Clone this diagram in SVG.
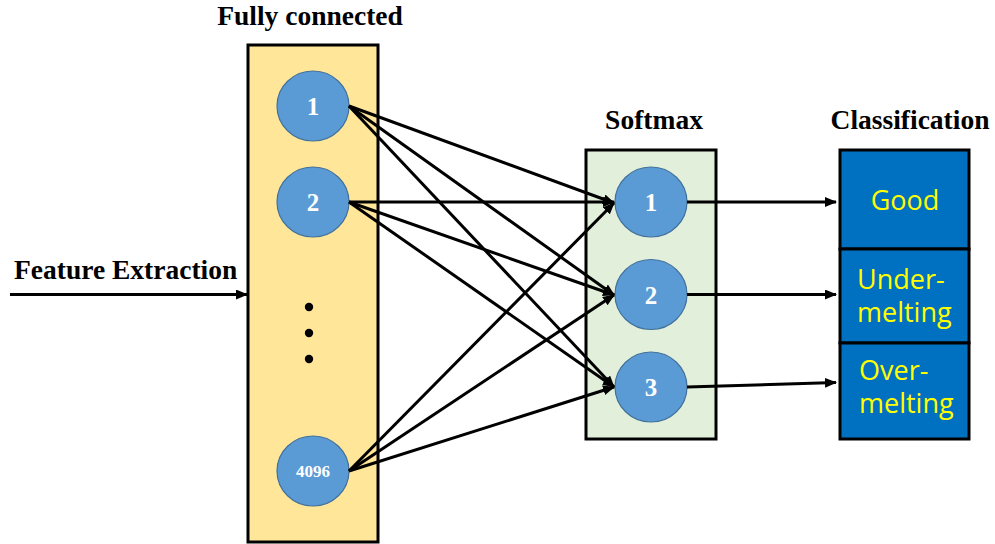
<svg xmlns="http://www.w3.org/2000/svg" width="995" height="544" viewBox="0 0 995 544">
  <defs>
    <marker id="arrow" markerUnits="userSpaceOnUse" markerWidth="12" markerHeight="10" refX="11" refY="5" orient="auto">
      <path d="M0,0 L12,5 L0,10 Z" fill="#000"/>
    </marker>
    <style>
      .title { font-family: "Liberation Serif", "Times New Roman", serif; font-weight: bold; font-size: 27.5px; fill: #000; }
      .layer { stroke: #000; stroke-width: 3; }
      .neuron { fill: #5B9BD5; stroke: #41719C; stroke-width: 1.2; }
      .num { font-family: "Liberation Serif", "Times New Roman", serif; font-weight: bold; font-size: 25px; fill: #fff; text-anchor: middle; }
      .cls { fill: #0070C0; stroke: #000; stroke-width: 3; }
      .clsText { font-family: "Open Sans", "Noto Sans", sans-serif; font-size: 27px; fill: #FFFF00; }
      .link { stroke: #000; stroke-width: 3; fill: none; marker-end: url(#arrow); }
    </style>
  </defs>
  <rect width="995" height="544" fill="#fff"/>

  <!-- headings -->
  <text class="title" x="310" y="25" text-anchor="middle">Fully connected</text>
  <text class="title" x="654" y="129" text-anchor="middle">Softmax</text>
  <text class="title" x="910" y="129" text-anchor="middle">Classification</text>
  <text class="title" x="14" y="279">Feature Extraction</text>

  <!-- fully connected layer -->
  <g id="fc-layer">
    <rect class="layer" x="248" y="45" width="130" height="497" fill="#FFE699"/>
    <circle cx="309" cy="307" r="4.2" fill="#000"/>
    <circle cx="309" cy="333" r="4.2" fill="#000"/>
    <circle cx="309" cy="359" r="4.2" fill="#000"/>
  </g>
  <g id="fc1">
    <ellipse class="neuron" cx="313" cy="106" rx="36" ry="35"/>
    <text class="num" x="313" y="115">1</text>
  </g>
  <g id="fc2">
    <ellipse class="neuron" cx="313" cy="202" rx="36" ry="35"/>
    <text class="num" x="313" y="211">2</text>
  </g>
  <g id="fc4096">
    <ellipse class="neuron" cx="313" cy="471" rx="36" ry="35"/>
    <text class="num" x="313" y="477" style="font-size:17px">4096</text>
  </g>

  <!-- softmax layer -->
  <g id="softmax-layer">
    <rect class="layer" x="586" y="150" width="130" height="289" fill="#E2EFDA"/>
  </g>
  <g id="sm1">
    <ellipse class="neuron" cx="651" cy="202" rx="36" ry="35"/>
    <text class="num" x="651" y="211">1</text>
  </g>
  <g id="sm2">
    <ellipse class="neuron" cx="651" cy="294.5" rx="36" ry="35"/>
    <text class="num" x="651" y="303.5">2</text>
  </g>
  <g id="sm3">
    <ellipse class="neuron" cx="651" cy="387" rx="36" ry="35"/>
    <text class="num" x="651" y="396">3</text>
  </g>

  <!-- classification outputs -->
  <g id="cls-good">
    <rect class="cls" x="840" y="150" width="129" height="99"/>
    <text class="clsText" x="905" y="210" text-anchor="middle">Good</text>
  </g>
  <g id="cls-under">
    <rect class="cls" x="840" y="249" width="129" height="94"/>
    <text class="clsText" x="857" y="289">Under-</text>
    <text class="clsText" x="857" y="322">melting</text>
  </g>
  <g id="cls-over">
    <rect class="cls" x="840" y="343" width="129" height="96"/>
    <text class="clsText" x="859" y="380">Over-</text>
    <text class="clsText" x="859" y="413">melting</text>
  </g>

  <!-- connectors -->
  <g id="connectors">
    <line class="link" x1="10" y1="294.5" x2="247" y2="294.5"/>

    <line class="link" x1="349" y1="106" x2="614" y2="203"/>
    <line class="link" x1="349" y1="106" x2="614" y2="295"/>
    <line class="link" x1="349" y1="106" x2="614" y2="387"/>

    <line class="link" x1="349" y1="202" x2="614" y2="202"/>
    <line class="link" x1="349" y1="202" x2="614" y2="295"/>
    <line class="link" x1="349" y1="202" x2="614" y2="387"/>

    <line class="link" x1="349" y1="471" x2="614" y2="203"/>
    <line class="link" x1="349" y1="471" x2="614" y2="295"/>
    <line class="link" x1="349" y1="471" x2="614" y2="387"/>

    <line class="link" x1="687" y1="202" x2="836" y2="202"/>
    <line class="link" x1="687" y1="294.5" x2="836" y2="294.5"/>
    <line class="link" x1="687" y1="387" x2="836" y2="382.5"/>
  </g>
</svg>
